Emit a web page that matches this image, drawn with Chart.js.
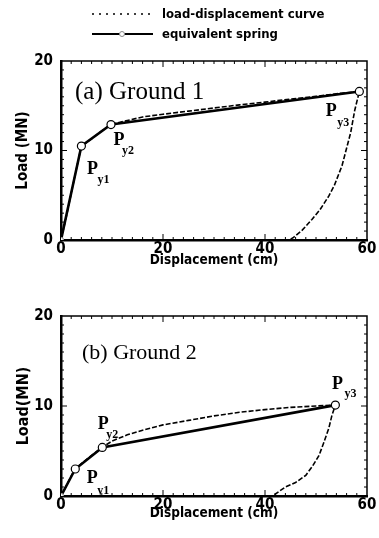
<!DOCTYPE html>
<html>
<head>
<meta charset="utf-8">
<script src="https://cdn.jsdelivr.net/npm/chart.js@4.4.1/dist/chart.umd.min.js"></script>
<style>
  html, body { margin: 0; padding: 0; background: #fff; }
  #wrap { position: relative; width: 379px; height: 538px; overflow: hidden; }
  canvas { position: absolute; left: 0; }
</style>
</head>
<body>
<div id="wrap">
  <canvas id="g1" width="379" height="275" style="top:0"></canvas>
  <canvas id="g2" width="379" height="263" style="top:275px"></canvas>
</div>
<script>
// ---- Ground 1 ----
const ld1X = [0, 1, 2, 3, 4, 6, 8, 9.8, 13, 16, 20, 25, 30, 35, 40, 45, 50, 55, 58.5,
              57.6, 56.8, 55.1, 53.6, 52.5, 50.8, 49.2, 47.3, 45.6, 44.8];
const ld1Y = [0, 2.5, 5.2, 7.9, 10.5, 11.3, 12.2, 12.9, 13.35, 13.75, 14.05, 14.4, 14.75, 15.1, 15.4, 15.75, 16.05, 16.4, 16.6,
              14.5, 12.0, 8.3, 6.1, 4.9, 3.4, 2.3, 1.1, 0.3, 0];
const sp1X = [0, 4.0, 9.8, 58.5];
const sp1Y = [0, 10.5, 12.9, 16.6];

// ---- Ground 2 ----
const ld2X = [0, 1, 2, 2.8, 4, 6, 8.1, 10, 13, 16, 20, 25, 30, 35, 40, 45, 50, 53.8,
              53.1, 52.5, 51.5, 50.6, 49.3, 48, 46, 44, 42.5, 41.5];
const ld2Y = [0, 1.1, 2.2, 3.0, 3.6, 4.5, 5.4, 6.1, 6.8, 7.3, 7.9, 8.4, 8.9, 9.3, 9.6, 9.85, 10.0, 10.1,
              8.9, 7.5, 5.9, 4.5, 3.3, 2.3, 1.5, 1.0, 0.4, 0];
const sp2X = [0, 2.8, 8.1, 53.8];
const sp2Y = [0, 3.0, 5.4, 10.1];

// ---- axes ----
const xTicks = [0, 20, 40, 60];
const yTicks = [0, 10, 20];
const xMajorInner = [20, 40];
const yMajorInner = [10];
const xMinorStep = 2;
const yMinorStep = 1;

const SANS = '"Liberation Sans Narrow", "DejaVu Sans Condensed", "Liberation Sans", Arial, sans-serif';
const SERIF = '"Liberation Serif", "Times New Roman", serif';

function pts(xs, ys) { return xs.map((x, i) => ({ x: x, y: ys[i] })); }

// Thin top/right frame lines plus short inward ticks on all four sides
const framePlugin = {
  id: 'frame',
  beforeDatasetsDraw(chart) {
    const { ctx, chartArea: a, scales: { x, y } } = chart;
    ctx.save();
    ctx.strokeStyle = '#000';
    ctx.lineWidth = 1.5;
    ctx.beginPath();
    ctx.moveTo(a.left, a.top); ctx.lineTo(a.right, a.top); ctx.lineTo(a.right, a.bottom);
    ctx.stroke();
    ctx.lineWidth = 1;
    ctx.beginPath();
    for (let v = xMinorStep; v < x.max; v += xMinorStep) {
      const px = x.getPixelForValue(v);
      const len = xMajorInner.includes(v) ? 6 : 3;
      ctx.moveTo(px, a.bottom); ctx.lineTo(px, a.bottom - len);
      ctx.moveTo(px, a.top); ctx.lineTo(px, a.top + len);
    }
    for (let v = yMinorStep; v < y.max; v += yMinorStep) {
      const py = y.getPixelForValue(v);
      const len = yMajorInner.includes(v) ? 6 : 3;
      ctx.moveTo(a.left, py); ctx.lineTo(a.left + len, py);
      ctx.moveTo(a.right, py); ctx.lineTo(a.right - len, py);
    }
    ctx.stroke();
    ctx.restore();
  }
};

// Panel caption and P_y labels next to the spring points
const notesPlugin = {
  id: 'notes',
  afterDatasetsDraw(chart, args, opts) {
    const { ctx, chartArea: a } = chart;
    const meta = chart.getDatasetMeta(0);
    ctx.save();
    ctx.fillStyle = '#000';
    ctx.textBaseline = 'middle';
    ctx.textAlign = 'left';
    ctx.font = opts.captionSize + 'px ' + SERIF;
    ctx.fillText(opts.caption, a.left + opts.captionDx, a.top + opts.captionDy);
    ctx.textAlign = 'center';
    opts.marks.forEach((m, k) => {
      const el = meta.data[k + 1];
      ctx.font = 'bold 18px ' + SERIF;
      ctx.fillText('P', el.x + m[0], el.y + m[1]);
      ctx.font = 'bold 12px ' + SERIF;
      ctx.fillText('y' + (k + 1), el.x + m[2], el.y + m[3]);
    });
    ctx.restore();
  }
};

// Line-style key above the first panel
const keyPlugin = {
  id: 'key',
  afterDraw(chart, args, opts) {
    if (!opts.show) return;
    const ctx = chart.ctx;
    ctx.save();
    ctx.strokeStyle = '#000';
    ctx.lineWidth = 1.4;
    ctx.setLineDash([2, 5]);
    ctx.beginPath(); ctx.moveTo(92, 14); ctx.lineTo(153, 14); ctx.stroke();
    ctx.setLineDash([]);
    ctx.lineWidth = 2.2;
    ctx.beginPath(); ctx.moveTo(92, 34); ctx.lineTo(153, 34); ctx.stroke();
    ctx.fillStyle = '#fff';
    ctx.strokeStyle = '#888';
    ctx.lineWidth = 1;
    ctx.beginPath(); ctx.arc(122, 34, 2.5, 0, Math.PI * 2); ctx.fill(); ctx.stroke();
    ctx.fillStyle = '#000';
    ctx.font = 'bold 13px ' + SANS;
    ctx.textBaseline = 'middle';
    ctx.textAlign = 'left';
    ctx.fillText('load-displacement curve', 162, 15);
    ctx.fillText('equivalent spring', 162, 35);
    ctx.restore();
  }
};

function makeChart(id, ldX, ldY, spX, spY, cfg) {
  const tickFont = { family: SANS, weight: 'bold', size: 15 };
  const xTitleFont = { family: SANS, weight: 'bold', size: 13.5 };
  const yTitleFont = { family: SANS, weight: 'bold', size: cfg.yTitleSize };
  return new Chart(document.getElementById(id), {
    type: 'scatter',
    data: {
      datasets: [
        {
          label: 'equivalent spring',
          data: pts(spX, spY),
          showLine: true,
          borderColor: '#000',
          borderWidth: 2.6,
          pointRadius: [2.5, 4, 4, 4],
          pointBackgroundColor: '#fff',
          pointBorderColor: ['#999', '#000', '#000', '#000'],
          pointBorderWidth: 1.2,
          order: 0
        },
        {
          label: 'load-displacement curve',
          data: pts(ldX, ldY),
          showLine: true,
          borderColor: '#000',
          borderWidth: 1.6,
          borderDash: [5, 2],
          pointRadius: 0,
          tension: 0,
          order: 1
        }
      ]
    },
    options: {
      responsive: false,
      devicePixelRatio: 1,
      animation: false,
      events: [],
      layout: { padding: { top: cfg.padTop, right: 12, left: 0, bottom: cfg.padBottom } },
      scales: {
        x: {
          type: 'linear', min: 0, max: 60,
          afterBuildTicks: s => { s.ticks = xTicks.map(v => ({ value: v })); },
          afterFit: s => { s.height = cfg.xHeight; },
          grid: { display: false, drawTicks: false },
          border: { display: true, color: '#000', width: 2.5 },
          ticks: { color: '#000', font: tickFont, padding: 0, maxRotation: 0, autoSkip: false },
          title: { display: true, text: 'Displacement (cm)', color: '#000', font: xTitleFont, padding: { top: 0, bottom: 0 } }
        },
        y: {
          type: 'linear', min: 0, max: 20,
          afterBuildTicks: s => { s.ticks = yTicks.map(v => ({ value: v })); },
          afterFit: s => { s.width = 61; },
          grid: { display: false, drawTicks: false },
          border: { display: true, color: '#000', width: 2.5 },
          ticks: { color: '#000', font: tickFont, padding: 8, autoSkip: false },
          title: { display: true, text: cfg.yTitle, color: '#000', font: yTitleFont, padding: { top: 14, bottom: 0 } }
        }
      },
      plugins: {
        legend: { display: false },
        tooltip: { enabled: false },
        notes: cfg.notes,
        key: { show: cfg.key }
      }
    },
    plugins: [framePlugin, notesPlugin, keyPlugin]
  });
}

makeChart('g1', ld1X, ld1Y, sp1X, sp1Y, {
  padTop: 61, padBottom: 6, xHeight: 29, yTitle: 'Load (MN)', yTitleSize: 15, key: true,
  notes: {
    caption: '(a) Ground 1', captionSize: 25, captionDx: 14, captionDy: 31,
    marks: [[11, 23, 22, 34], [8, 16, 17, 26], [-28, 20, -16, 31]]
  }
});

makeChart('g2', ld2X, ld2Y, sp2X, sp2Y, {
  padTop: 41, padBottom: 16, xHeight: 26, yTitle: 'Load(MN)', yTitleSize: 16, key: false,
  notes: {
    caption: '(b) Ground 2', captionSize: 22, captionDx: 21, captionDy: 37,
    marks: [[17, 9, 28, 22], [1, -23, 10, -12], [2, -21, 15, -11]]
  }
});
</script>
</body>
</html>
